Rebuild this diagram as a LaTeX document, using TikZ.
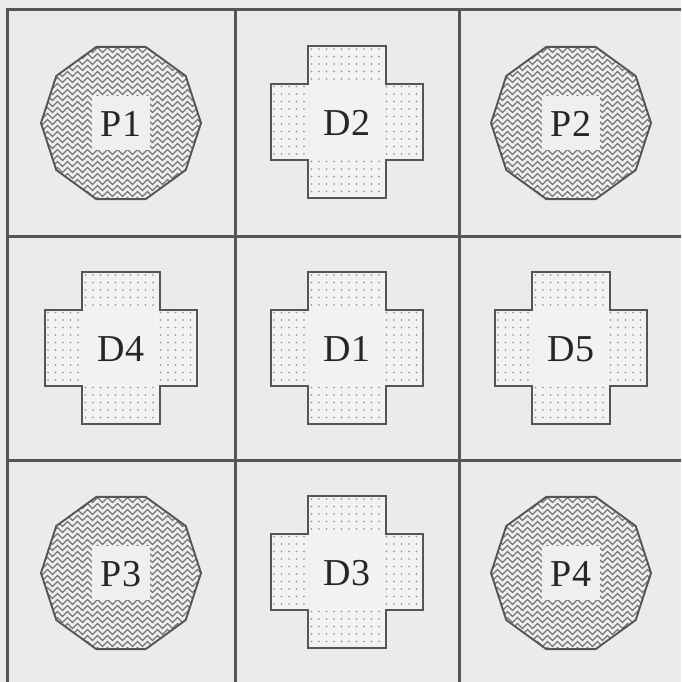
\documentclass[tikz,border=0pt]{standalone}
\usepackage{fontspec}
\setmainfont{Liberation Serif}
\usetikzlibrary{decorations.pathmorphing}
\definecolor{bgc}{HTML}{EBEBEB}
\definecolor{gridc}{HTML}{555555}
\definecolor{hatchc}{HTML}{747474}
\definecolor{crossc}{HTML}{F2F2F2}
\definecolor{innerc}{HTML}{EFEFEF}
\definecolor{dotc}{HTML}{8A8A8A}
\newcommand\mydecagon[4]{%
 \begin{scope}[shift={(#1,#2)}]
  \fill[innerc] (0:80) \foreach \a in {36,72,...,324}{ -- (\a:80)} -- cycle;
  \begin{scope}
   \clip (0:80) \foreach \a in {36,72,...,324}{ -- (\a:80)} -- cycle;
   \foreach \yy in {-79,-73,...,82} \draw[zig] (-86,\yy) -- (86,\yy);
  \end{scope}
  \fill[innerc] (-29,-27) rectangle (29,27);
  \draw[outline] (0:80) \foreach \a in {36,72,...,324}{ -- (\a:80)} -- cycle;
  \node[lab] (#3) at (0,1) {#4};
 \end{scope}}
\newcommand\crosspath{(-39,-76) -- (39,-76) -- (39,-38) -- (76,-38) -- (76,38) -- (39,38) -- (39,76) -- (-39,76) -- (-39,38) -- (-76,38) -- (-76,-38) -- (-39,-38) -- cycle}
\newcommand\mycross[4]{%
 \begin{scope}[shift={(#1,#2)}]
  \fill[crossc] \crosspath;
  \begin{scope}
   \clip \crosspath;
   \foreach \xx in {-73,-65.5,...,75} \foreach \yy in {-73,-65.5,...,75} \fill[dotc] (\xx,\yy) circle (0.95);
  \end{scope}
  \fill[crossc] (-38,-37) rectangle (38,37);
  \draw[outline] \crosspath;
  \node[lab] (#3) at (0,1) {#4};
 \end{scope}}
\begin{document}
\begin{tikzpicture}[x=1pt,y=-1pt,
 gridline/.style={draw=gridc,line width=3pt},
 outline/.style={draw=gridc,line width=1.9pt,line join=miter},
 lab/.style={font=\fontsize{38}{38}\selectfont,text=black!85,inner sep=0pt},
 zig/.style={draw=hatchc,line width=1.3pt,decorate,decoration={zigzag,segment length=10pt,amplitude=2.5pt}}]
\useasboundingbox (0,0) rectangle (681,682);
\fill[bgc] (0,0) rectangle (681,682);
\clip (0,0) rectangle (681,682);
\mydecagon{121}{123}{P1}{P1}
\mycross{347}{122}{D2}{D2}
\mydecagon{571}{123}{P2}{P2}
\mycross{121}{348}{D4}{D4}
\mycross{347}{348}{D1}{D1}
\mycross{571}{348}{D5}{D5}
\mydecagon{121}{573}{P3}{P3}
\mycross{347}{572}{D3}{D3}
\mydecagon{571}{573}{P4}{P4}
\draw[gridline] (7,10) rectangle (683,684);
\draw[gridline] (235,10) -- (235,684);
\draw[gridline] (459,10) -- (459,684);
\draw[gridline] (7,236) -- (683,236);
\draw[gridline] (7,460) -- (683,460);
\end{tikzpicture}
\end{document}
